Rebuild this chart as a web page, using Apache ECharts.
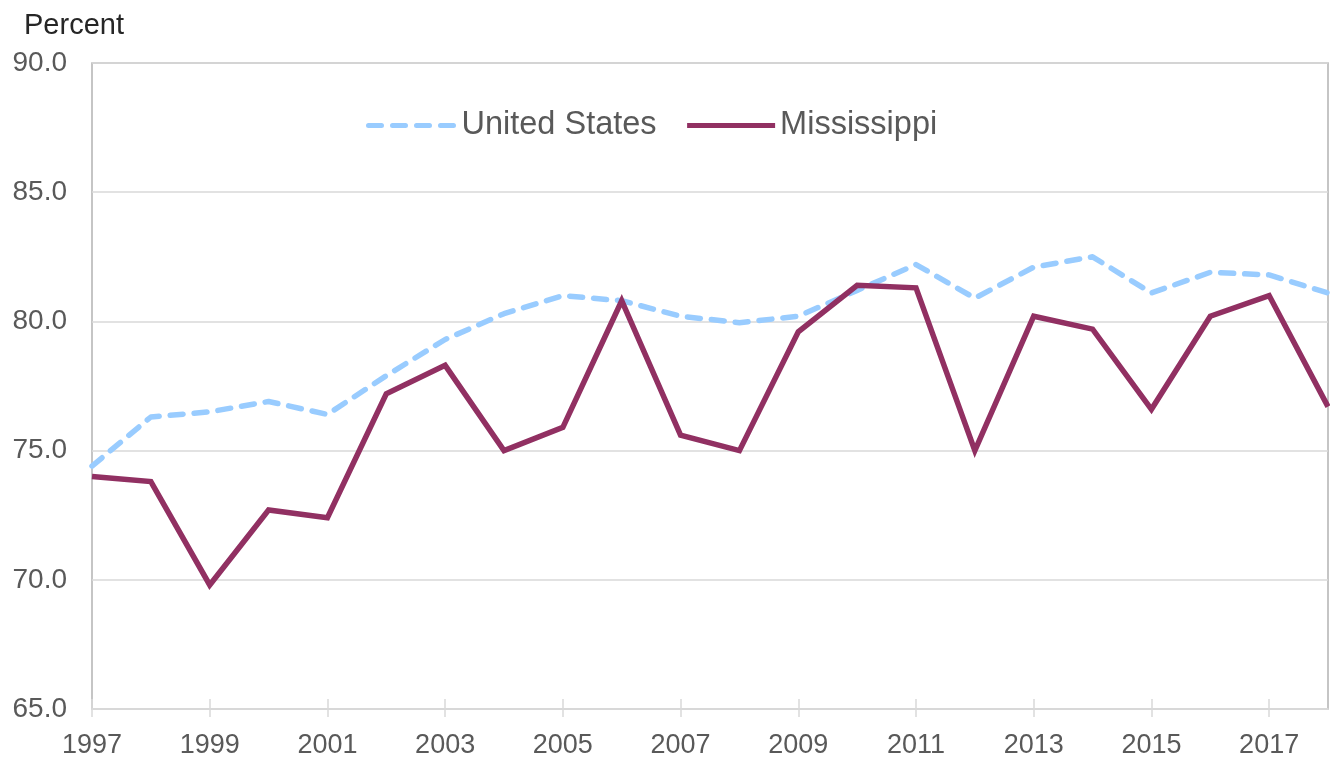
<!DOCTYPE html>
<html>
<head>
<meta charset="utf-8">
<script src="https://cdn.jsdelivr.net/npm/echarts@6/dist/echarts.min.js"></script>
<style>
html,body{margin:0;padding:0;background:#fff;}
#chart{width:1330px;height:759px;}
</style>
</head>
<body>
<div id="chart"></div>
<script>
const years = ['1997','1998','1999','2000','2001','2002','2003','2004','2005','2006','2007','2008','2009','2010','2011','2012','2013','2014','2015','2016','2017','2018'];
const unitedStates = [74.4,76.3,76.5,76.9,76.4,77.9,79.3,80.3,81.0,80.8,80.2,79.95,80.2,81.2,82.2,80.9,82.1,82.5,81.1,81.9,81.8,81.1];
const mississippi = [74.0,73.8,69.8,72.7,72.4,77.2,78.3,75.0,75.9,80.8,75.6,75.0,79.6,81.4,81.3,75.0,80.2,79.7,76.6,80.2,81.0,76.7];
const yTicks = {min:65, max:90, step:5};

const FONT = '"Liberation Sans", Arial, sans-serif';
const chart = echarts.init(document.getElementById('chart'), null, {renderer:'canvas'});
chart.setOption({
  animation:false,
  backgroundColor:'#ffffff',
  title:{
    text:'Percent', left:19, top:6,
    textStyle:{fontFamily:FONT, fontSize:29, fontWeight:'normal', color:'#262626'}
  },
  legend:{
    left:361, top:104, itemGap:28, itemWidth:88, itemHeight:14,
    textStyle:{fontFamily:FONT, fontSize:32.5, color:'#595959'},
    lineStyle:{width:5},
    itemStyle:{opacity:0},
    data:['United States','Mississippi']
  },
  grid:{left:92, right:2, top:63, bottom:50, show:true, borderColor:'#b3b3b3', borderWidth:1.5, backgroundColor:'transparent'},
  xAxis:[{
    type:'category', data:years, boundaryGap:false,
    axisLine:{show:true, lineStyle:{color:'#d9d9d9', width:1.5}},
    axisTick:{show:true, interval:1, length:8, lineStyle:{color:'#d9d9d9', width:1.5}},
    axisLabel:{interval:1, margin:23, fontFamily:FONT, fontSize:27, color:'#595959'},
    splitLine:{show:false}
  },{
    type:'category', data:years, boundaryGap:false, position:'bottom',
    axisLine:{show:false},
    axisTick:{show:true, inside:true, interval:1, length:10, lineStyle:{color:'#d9d9d9', width:1.5}},
    axisLabel:{show:false},
    splitLine:{show:false}
  }],
  yAxis:{
    type:'value', min:yTicks.min, max:yTicks.max, interval:yTicks.step,
    axisLine:{show:false}, axisTick:{show:false},
    axisLabel:{margin:25, fontFamily:FONT, fontSize:28, color:'#595959', formatter:v=>v.toFixed(1)},
    splitLine:{show:true, lineStyle:{color:'#d9d9d9', width:1.5}}
  },
  series:[{
    name:'United States', type:'line', data:unitedStates, xAxisIndex:0,
    symbol:'none', showSymbol:false,
    lineStyle:{color:'#99CCFF', width:5.5, type:[13,11], cap:'round', join:'round'},
    itemStyle:{color:'#99CCFF'}
  },{
    name:'Mississippi', type:'line', data:mississippi, xAxisIndex:0,
    symbol:'none', showSymbol:false,
    lineStyle:{color:'#913062', width:5.5, join:'miter'},
    itemStyle:{color:'#913062'}
  }]
});
</script>
</body>
</html>
